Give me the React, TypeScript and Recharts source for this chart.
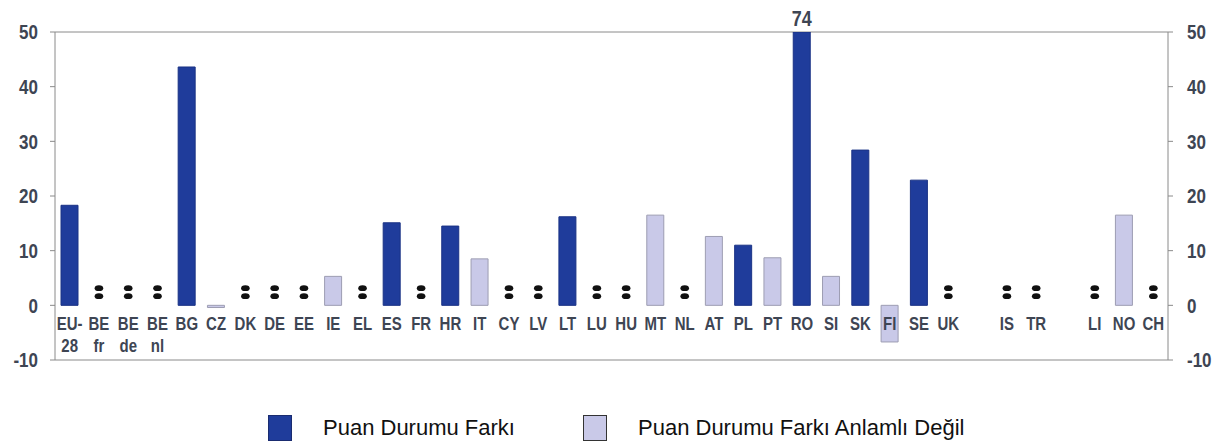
import React from 'react';
import {
  ComposedChart,
  Bar,
  Scatter,
  XAxis,
  YAxis,
  CartesianGrid,
  LabelList,
} from 'recharts';

// Country codes; "|" splits a label over two lines, "" is an empty slot
const categories = [
  'EU-|28', 'BE|fr', 'BE|de', 'BE|nl', 'BG', 'CZ', 'DK', 'DE', 'EE', 'IE',
  'EL', 'ES', 'FR', 'HR', 'IT', 'CY', 'LV', 'LT', 'LU', 'HU',
  'MT', 'NL', 'AT', 'PL', 'PT', 'RO', 'SI', 'SK', 'FI', 'SE',
  'UK', '', 'IS', 'TR', '', 'LI', 'NO', 'CH',
];

// Puan Durumu Farkı (significant)
const significant: (number | null)[] = [
  18.3, null, null, null, 43.6, null, null, null, null, null,
  null, 15.1, null, 14.5, null, null, null, 16.2, null, null,
  null, null, null, 11.0, null, 74, null, 28.4, null, 22.9,
  null, null, null, null, null, null, null, null,
];

// Puan Durumu Farkı Anlamlı Değil (not significant)
const notSignificant: (number | null)[] = [
  null, null, null, null, null, -0.4, null, null, null, 5.3,
  null, null, null, null, 8.5, null, null, null, null, null,
  16.5, null, 12.6, null, 8.7, null, 5.3, null, -6.7, null,
  null, null, null, null, null, null, 16.5, null,
];

// countries shown with ":" (no data)
const notAvailable = [
  'BE|fr', 'BE|de', 'BE|nl', 'DK', 'DE', 'EE', 'EL', 'FR', 'CY', 'LV',
  'LU', 'HU', 'NL', 'UK', 'IS', 'TR', 'LI', 'CH',
];

const yTicks = [-10, 0, 10, 20, 30, 40, 50];
const Y_MAX = 50;
const NA_LEVEL = 2.4;

const data = categories.map((name, i) => ({
  name,
  sig: significant[i],
  ns: notSignificant[i],
  na: notAvailable.includes(name) ? NA_LEVEL : null,
}));

const DARK = '#1f3c9b';
const LIGHT = '#c9c9e8';
const TEXT = '#3e4553';
const GRID = '#8a8a8a';
const FONT = "'Liberation Sans', Arial, sans-serif";
const TOP = 32;
// the original uses a condensed face; stretch text vertically to get close
const STRETCH = 1.2;

// eslint-disable-next-line @typescript-eslint/no-explicit-any
function CountryTick({ x, y, payload }: any) {
  const lines = String(payload.value).split('|');
  return (
    <g transform={`translate(${x},${y})`}>
      <text
        transform={`scale(1,${STRETCH})`}
        x={0}
        y={0}
        textAnchor="middle"
        fill={TEXT}
        fontFamily={FONT}
        fontWeight="bold"
        fontSize={15}
      >
        {lines.map((l, i) => (
          <tspan key={i} x={0} dy={i === 0 ? -30 / STRETCH : 22 / STRETCH}>
            {l}
          </tspan>
        ))}
      </text>
    </g>
  );
}

// eslint-disable-next-line @typescript-eslint/no-explicit-any
function ColonMark({ cx, cy }: any) {
  if (cx == null || cy == null) return null;
  return (
    <g fill="#111">
      <ellipse cx={cx} cy={cy - 4} rx={4.3} ry={2.9} />
      <ellipse cx={cx} cy={cy + 4} rx={4.3} ry={2.9} />
    </g>
  );
}

// value label only for bars that run off the top of the scale (RO = 74)
// eslint-disable-next-line @typescript-eslint/no-explicit-any
function OverflowLabel({ x, width, value }: any) {
  if (value == null || value <= Y_MAX) return null;
  return (
    <g transform={`translate(${x + width / 2},${TOP - 6})`}>
      <text
        transform={`scale(1,${STRETCH})`}
        textAnchor="middle"
        fill={TEXT}
        fontFamily={FONT}
        fontWeight="bold"
        fontSize={18}
      >
        {value}
      </text>
    </g>
  );
}

// eslint-disable-next-line @typescript-eslint/no-explicit-any
function ValueTick({ x, y, payload, textAnchor }: any) {
  return (
    <g transform={`translate(${x},${y})`}>
      <text
        transform={`scale(1,${STRETCH})`}
        textAnchor={textAnchor}
        dy="0.36em"
        fill={TEXT}
        fontFamily={FONT}
        fontWeight="bold"
        fontSize={17}
      >
        {payload.value}
      </text>
    </g>
  );
}

function LegendItem({ color, label, border }: { color: string; label: string; border: string }) {
  return (
    <div style={{ display: 'flex', alignItems: 'center' }}>
      <span
        style={{
          width: 24,
          height: 26,
          background: color,
          border: `1px solid ${border}`,
          boxSizing: 'border-box',
          marginRight: 31,
        }}
      />
      <span style={{ fontFamily: FONT, fontSize: 22, color: '#111' }}>{label}</span>
    </div>
  );
}

export default function App() {
  return (
    <div style={{ position: 'absolute', left: 0, top: 0, width: 1225, height: 446, background: '#fff' }}>
      <ComposedChart
        width={1225}
        height={446}
        data={data}
        stackOffset="sign"
        margin={{ top: TOP, right: 0, left: 0, bottom: 56 }}
      >
        <CartesianGrid horizontal vertical={false} stroke={GRID} />
        <YAxis
          yAxisId="left"
          orientation="left"
          width={55}
          domain={[-10, Y_MAX]}
          ticks={yTicks}
          allowDataOverflow
          stroke={GRID}
          tickSize={5}
          tickMargin={12}
          tick={<ValueTick />}
        />
        <YAxis
          yAxisId="right"
          orientation="right"
          width={57}
          domain={[-10, Y_MAX]}
          ticks={yTicks}
          allowDataOverflow
          stroke={GRID}
          tickSize={5}
          tickMargin={14}
          tick={<ValueTick />}
        />
        <Bar
          yAxisId="left"
          dataKey="sig"
          stackId="a"
          barSize={17}
          fill={DARK}
          stroke="#1a3285"
          isAnimationActive={false}
        >
          <LabelList dataKey="sig" content={<OverflowLabel />} />
        </Bar>
        <Bar
          yAxisId="left"
          dataKey="ns"
          stackId="a"
          barSize={17}
          fill={LIGHT}
          stroke="#9d9db2"
          isAnimationActive={false}
        />
        <Scatter
          yAxisId="left"
          dataKey="na"
          shape={<ColonMark />}
          isAnimationActive={false}
        />
        <XAxis
          dataKey="name"
          height={30}
          axisLine={false}
          tickLine={false}
          tickSize={0}
          tickMargin={0}
          interval={0}
          tick={<CountryTick />}
        />
      </ComposedChart>
      <div style={{ position: 'absolute', left: 268, top: 415, display: 'flex' }}>
        <LegendItem color={DARK} border="#1a2c70" label="Puan Durumu Farkı" />
      </div>
      <div style={{ position: 'absolute', left: 583, top: 415, display: 'flex' }}>
        <LegendItem color={LIGHT} border="#333" label="Puan Durumu Farkı Anlamlı Değil" />
      </div>
    </div>
  );
}
